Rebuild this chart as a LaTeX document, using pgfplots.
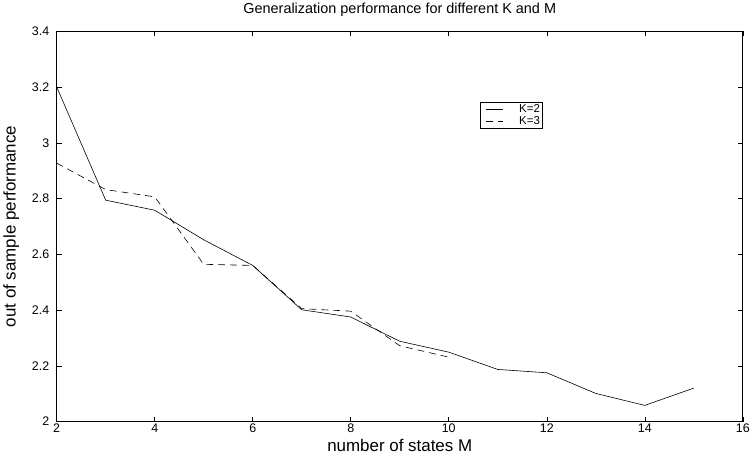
\documentclass[border=0pt]{standalone}
\usepackage{fontspec}
\setmainfont{Liberation Sans}
\usepackage{pgfplots}
\pgfplotsset{compat=1.18}

\begin{document}
\begin{tikzpicture}[x=1pt,y=1pt]
\begin{axis}[
    scale only axis,
    width=689pt, height=392pt,
    xmin=2, xmax=16, ymin=2, ymax=3.4,
    xtick={2,4,...,16},
    ytick={2,2.2,...,3.4},
    yticklabels={2,2.2,2.4,2.6,2.8,3,3.2,3.4},
    tick align=inside,
    major tick length=5pt,
    tick style={black, line width=0.5pt},
    axis line style={line width=0.8pt},
    /pgf/number format/assume math mode=true,
    ticklabel style={font=\fontsize{12.5}{14}\selectfont},
    xticklabel style={yshift=1pt},
    yticklabel style={xshift=-4pt},
    title={Generalization performance for different K and M},
    title style={font=\fontsize{14.5}{16}\selectfont, yshift=5pt},
    xlabel={number of states M},
    xlabel style={font=\fontsize{17}{19}\selectfont, yshift=1pt},
    ylabel={out of sample performance},
    ylabel style={font=\fontsize{17}{19}\selectfont, yshift=6pt},
    legend style={at={(0.617,0.819)}, anchor=north west,
        font=\fontsize{11.5}{12}\selectfont, draw=black, line width=0.5pt,
        inner sep=0.5pt, row sep=-1.5pt},
    legend cell align=left,
    legend image code/.code={\draw[#1] (5pt,0pt) -- (22pt,0pt);
        \path (0pt,0pt) (36pt,0pt);},
]
\addplot[black, line width=0.6pt] coordinates {
(2,3.200) (3,2.794) (4,2.758) (5,2.652) (6,2.560) (7,2.401) (8,2.375)
(9,2.288) (10,2.249) (11,2.187) (12,2.175) (13,2.101) (14,2.058) (15,2.120)
};
\addlegendentry{K=2}
\addplot[black, line width=0.6pt, dash pattern=on 7pt off 5pt] coordinates {
(2,2.927) (3,2.832) (4,2.806) (5,2.564) (6,2.560) (7,2.405) (8,2.396)
(9,2.272) (10,2.231)
};
\addlegendentry{K=3}
\end{axis}
\end{tikzpicture}
\end{document}
